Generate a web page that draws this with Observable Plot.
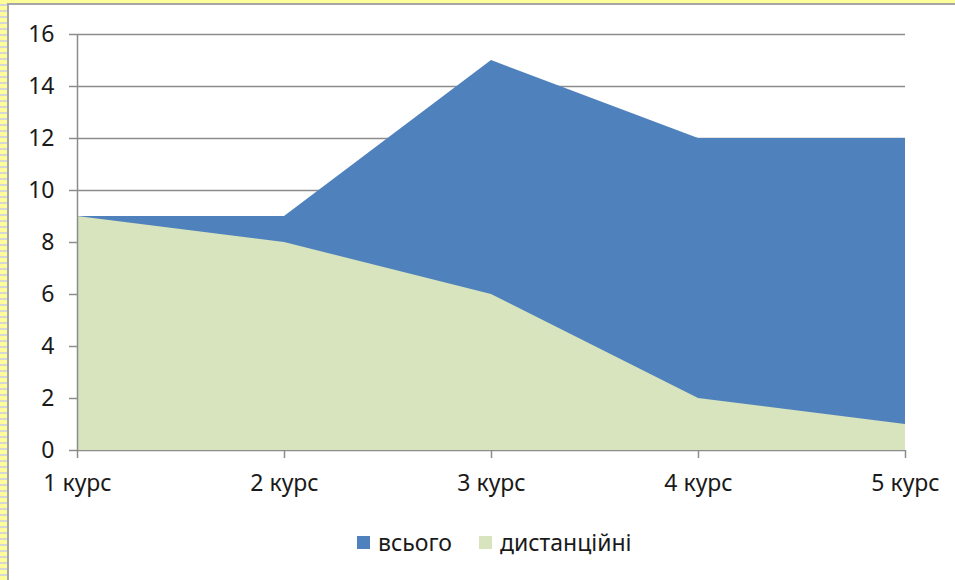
<!DOCTYPE html>
<html>
<head>
<meta charset="utf-8">
<script src="https://cdn.jsdelivr.net/npm/d3@7"></script>
<script src="https://cdn.jsdelivr.net/npm/@observablehq/plot@0.6"></script>
<style>
  html, body { margin: 0; padding: 0; background: #fff; }
  #page { position: relative; width: 955px; height: 580px; overflow: hidden; background: #fff;
          font-family: "Noto Sans", "Open Sans", sans-serif; }
  #stripL { position: absolute; left: 0; top: 0; width: 7px; height: 580px;
            background: repeating-linear-gradient(to bottom, #fdfd9a 0px, #fdfd9a 4px, #d6d6d6 4px, #d6d6d6 6px); }
  #stripT { position: absolute; left: 0; top: 0; width: 955px; height: 3px; background: #fdfd9a; }
  #lineL { position: absolute; left: 7px; top: 3px; width: 2px; height: 577px; background: #a6a6a6; }
  #lineT { position: absolute; left: 7px; top: 3px; width: 948px; height: 2px; background: #a6a6a6; }
  #chart { position: absolute; left: 0; top: 0; }
  #legend { position: absolute; top: 526px; left: 357px; display: flex; align-items: center;
            font-size: 23px; color: #1a1a1a; }
  .sw { width: 13px; height: 13px; display: inline-block; margin-right: 8px; }
  .item { display: flex; align-items: center; margin-right: 27px; }
</style>
</head>
<body>
<div id="page">
  <div id="stripL"></div><div id="stripT"></div><div id="lineL"></div><div id="lineT"></div>
  <div id="chart"></div>
  <div id="legend"></div>
</div>
<script>
const courses = ["1 курс", "2 курс", "3 курс", "4 курс", "5 курс"];
const total = [9, 9, 15, 12, 12];
const distance = [9, 8, 6, 2, 1];
const yTicks = [0, 2, 4, 6, 8, 10, 12, 14, 16];
const seriesNames = ["всього", "дистанційні"];
const seriesColors = ["#4f81bd", "#d7e4bd"];

const totalData = courses.map((c, i) => ({course: c, value: total[i]}));
const distData = courses.map((c, i) => ({course: c, value: distance[i]}));

const chart = Plot.plot({
  width: 955,
  height: 500,
  marginLeft: 77,
  marginRight: 50,
  marginTop: 34,
  marginBottom: 50,
  style: {fontFamily: '"Noto Sans", "Open Sans", sans-serif', fontSize: "23px", color: "#1a1a1a", background: "transparent"},
  x: {type: "point", domain: courses, padding: 0, label: null},
  y: {domain: [0, 16], ticks: yTicks, label: null},
  marks: [
    Plot.gridY(yTicks, {stroke: "#8c8c8c", strokeOpacity: 1, strokeWidth: 1.5}),
    Plot.areaY(totalData, {x: "course", y: "value", fill: seriesColors[0]}),
    Plot.areaY(distData, {x: "course", y: "value", fill: seriesColors[1]}),
    Plot.axisY({ticks: yTicks, tickSize: 8, tickPadding: 15, stroke: "#8c8c8c", strokeWidth: 1.5, label: null, fontSize: 23}),
    Plot.axisX({tickSize: 8, tickPadding: 16, stroke: "#8c8c8c", strokeWidth: 1.5, label: null, fontSize: 23}),
    Plot.ruleX([courses[0]], {stroke: "#8c8c8c", strokeWidth: 1.5})
  ]
});
document.getElementById("chart").appendChild(chart);

const legend = document.getElementById("legend");
seriesNames.forEach((n, i) => {
  const it = document.createElement("div");
  it.className = "item";
  const sw = document.createElement("span");
  sw.className = "sw";
  sw.style.background = seriesColors[i];
  it.appendChild(sw);
  const t = document.createElement("span");
  t.textContent = n;
  it.appendChild(t);
  legend.appendChild(it);
});
</script>
</body>
</html>
